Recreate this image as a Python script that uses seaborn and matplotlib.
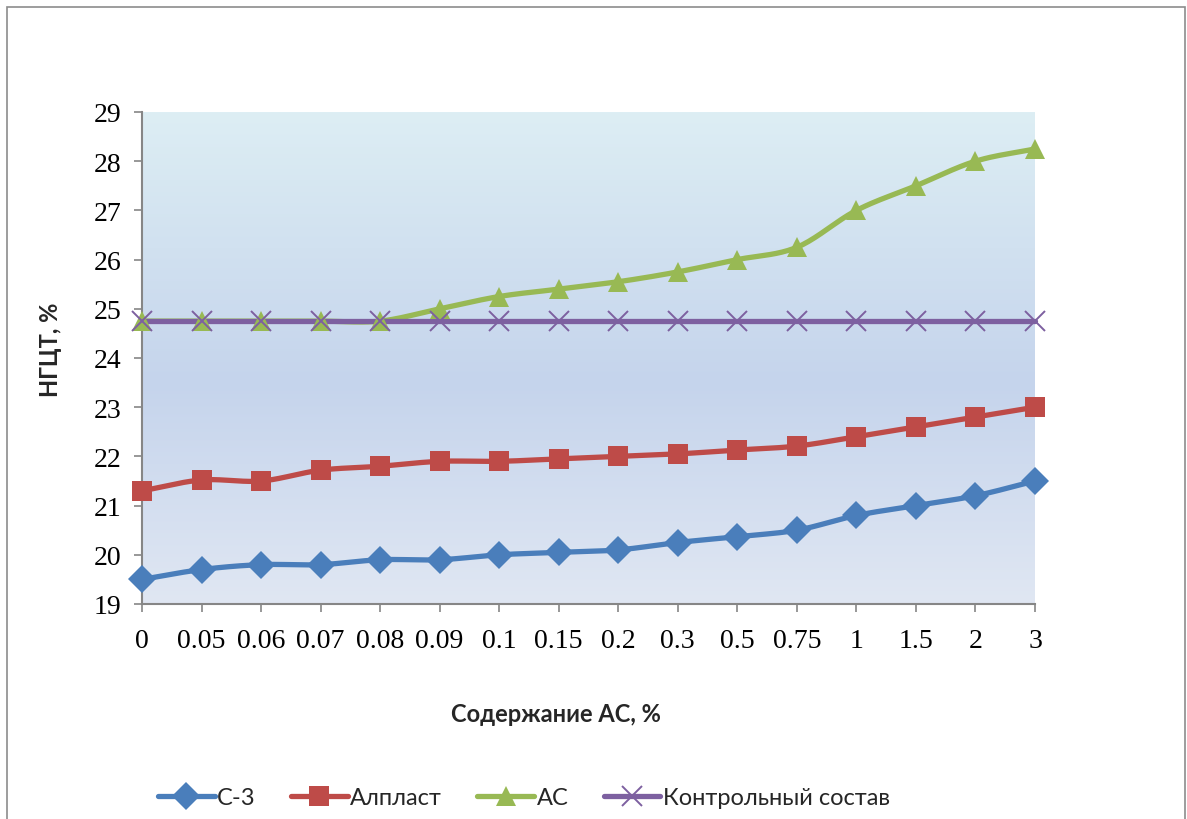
import numpy as np
import pandas as pd
import matplotlib
matplotlib.use("Agg")
import matplotlib.pyplot as plt
from matplotlib.lines import Line2D
from matplotlib.patches import Rectangle
import seaborn as sns

# Additive content, % (category labels on the x axis)
categories = ["0", "0.05", "0.06", "0.07", "0.08", "0.09", "0.1", "0.15",
              "0.2", "0.3", "0.5", "0.75", "1", "1.5", "2", "3"]

# Normal consistency of cement paste (НГЦТ), %
s3 = [19.5, 19.7, 19.8, 19.8, 19.9, 19.9, 20.0, 20.05,
      20.1, 20.25, 20.37, 20.5, 20.8, 21.0, 21.2, 21.5]
alplast = [21.3, 21.52, 21.5, 21.72, 21.8, 21.9, 21.9, 21.95,
           22.0, 22.05, 22.13, 22.21, 22.4, 22.6, 22.8, 23.0]
ac = [24.75, 24.75, 24.75, 24.75, 24.75, 25.0, 25.25, 25.4,
      25.55, 25.75, 26.0, 26.25, 27.0, 27.5, 28.0, 28.25]
control = [24.75] * 16

series_names = ["С-3", "Алпласт", "АС", "Контрольный состав"]
series_values = [s3, alplast, ac, control]
colors = ["#4a7ebb", "#be4b48", "#98b954", "#7d60a0"]
markers = ["D", "s", "^", "x"]
msizes = [14, 14, 14, 14]

sns.set_theme(style="white")
plt.rcParams["font.family"] = ["Liberation Serif", "DejaVu Serif"]
SANS = ["Lato", "DejaVu Sans"]


def smooth(y, n=20):
    """Catmull-Rom spline through the points (uniform category spacing)."""
    y = np.asarray(y, dtype=float)
    x = np.arange(len(y), dtype=float)
    m = np.zeros_like(y)
    m[1:-1] = (y[2:] - y[:-2]) / 2.0
    m[0] = y[1] - y[0]
    m[-1] = y[-1] - y[-2]
    xs, ys = [], []
    for i in range(len(y) - 1):
        t = np.linspace(0, 1, n, endpoint=False)
        h00 = 2 * t**3 - 3 * t**2 + 1
        h10 = t**3 - 2 * t**2 + t
        h01 = -2 * t**3 + 3 * t**2
        h11 = t**3 - t**2
        xs.append(x[i] + t)
        ys.append(h00 * y[i] + h10 * m[i] + h01 * y[i + 1] + h11 * m[i + 1])
    xs.append([x[-1]])
    ys.append([y[-1]])
    return np.concatenate(xs), np.concatenate(ys)


fig = plt.figure(figsize=(11.87, 8.20), dpi=100)
ax = fig.add_axes([142 / 1187, 1 - 605 / 820, (1035 - 142) / 1187, (605 - 113) / 820])

# outer chart frame
fig.patches.append(Rectangle((7 / 1187, -0.05), (1185 - 7) / 1187, 1.05 - 8 / 820,
                             transform=fig.transFigure, fill=False,
                             edgecolor="#8c8c8c", linewidth=1.2, zorder=0))

# plot-area vertical gradient
top = np.array([221, 238, 244]) / 255
mid = np.array([197, 212, 236]) / 255
bot = np.array([224, 231, 243]) / 255
pos = np.linspace(0, 1, 256)[:, None]
grad = np.where(pos < 0.55,
                top + (mid - top) * (pos / 0.55),
                mid + (bot - mid) * ((pos - 0.55) / 0.45))
ax.imshow(grad[:, None, :], extent=[0, 15, 19, 29], aspect="auto",
          origin="upper", zorder=0, interpolation="bilinear")

LW = 3.8
for name, vals, c, mk, ms in zip(series_names, series_values, colors, markers, msizes):
    xs, ys = smooth(vals)
    sns.lineplot(x=xs, y=ys, ax=ax, color=c, linewidth=LW, sort=False,
                 estimator=None, zorder=2, clip_on=False)
    df = pd.DataFrame({"x": np.arange(len(vals)), "y": vals})
    if mk == "x":
        ax.plot(df["x"], df["y"], linestyle="none", marker="x", markersize=ms,
                markeredgewidth=1.4, color=c, zorder=3, clip_on=False)
    else:
        ax.plot(df["x"], df["y"], linestyle="none", marker=mk, markersize=ms,
                markeredgewidth=0, color=c, zorder=3, clip_on=False)

ax.set_xlim(0, 15)
ax.set_ylim(19, 29)
ax.set_xticks(range(len(categories)))
ax.set_xticklabels(categories)
ax.set_yticks(range(19, 30))
ax.tick_params(axis="both", labelsize=20, colors="#868686", labelcolor="black",
               length=6, width=1.2, direction="out", bottom=True, left=True)
ax.tick_params(axis="x", pad=11)
ax.tick_params(axis="y", pad=9)
for side in ["top", "right"]:
    ax.spines[side].set_visible(False)
for side in ["left", "bottom"]:
    ax.spines[side].set_color("#868686")
    ax.spines[side].set_linewidth(1.5)
ax.grid(False)

fig.text(50 / 1187, 1 - 350 / 820, "НГЦТ, %", rotation=90, ha="center", va="center",
         fontsize=17, fontweight="bold", family=SANS)
fig.text(556 / 1187, 1 - 715 / 820, "Содержание АС, %", ha="center", va="center",
         fontsize=17, fontweight="bold", family=SANS)

handles = []
for name, c, mk, ms in zip(series_names, colors, markers, msizes):
    if mk == "x":
        h = Line2D([], [], color=c, linewidth=LW, marker="x", markersize=ms,
                   markeredgewidth=1.4)
    else:
        h = Line2D([], [], color=c, linewidth=LW, marker=mk, markersize=ms,
                   markeredgewidth=0)
    handles.append(h)
fig.legend(handles, series_names, loc="center", bbox_to_anchor=(524 / 1187, 1 - 799 / 820),
           ncol=4, frameon=False, handlelength=2.4, handletextpad=0.1, columnspacing=1.5,
           prop={"family": SANS, "size": 17})

fig.savefig("out.png", dpi=100)
